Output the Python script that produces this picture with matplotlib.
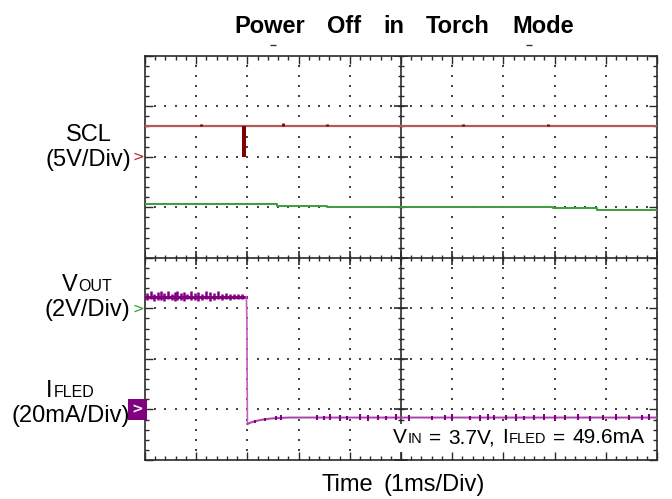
import numpy as np
import matplotlib
matplotlib.use("Agg")
import matplotlib.pyplot as plt
from matplotlib.patches import Rectangle

# ---------------- data (in screen divisions: x 0..10, y 0..8) ----------------
title = "Power Off in Torch Mode"
x_label = "Time (1ms/Div)"

scl_t = [0.0, 10.0]
scl_v = [6.60, 6.60]
scl_spike_t = 1.94
scl_spike_lo = 6.00
scl_glitch_t = [1.10, 2.70, 3.55, 6.22, 7.88]
scl_glitch_v = [6.64, 6.66, 6.65, 6.65, 6.65]

green_t = [0.00, 2.57, 3.55, 7.97, 8.83, 10.00]
green_v = [5.06, 5.03, 5.01, 4.99, 4.94, 4.94]

# VOUT / IFLED trace (base waveform)
purple_t = [0.00, 1.98, 1.99, 2.00, 2.02, 2.06, 2.12, 2.20, 2.30, 2.45, 2.60, 2.80, 10.00]
purple_v = [3.23, 3.23, 2.74, 0.71, 0.72, 0.74, 0.76, 0.78, 0.80, 0.82, 0.83, 0.84, 0.84]

# noise spikes riding on the trace
pre_noise_t = [0.04, 0.12, 0.18, 0.26, 0.31, 0.38, 0.44, 0.52, 0.58, 0.63, 0.70,
               0.76, 0.83, 0.90, 0.97, 1.04, 1.12, 1.19, 1.27, 1.34, 1.42, 1.50,
               1.58, 1.66, 1.73, 1.81, 1.90]
pre_noise_lo = [3.16, 3.18, 3.14, 3.17, 3.16, 3.15, 3.18, 3.16, 3.14, 3.17, 3.16,
                3.15, 3.18, 3.16, 3.17, 3.15, 3.16, 3.18, 3.15, 3.16, 3.18, 3.16,
                3.18, 3.17, 3.18, 3.18, 3.19]
pre_noise_hi = [3.30, 3.34, 3.29, 3.33, 3.35, 3.30, 3.34, 3.29, 3.32, 3.35, 3.30,
                3.33, 3.29, 3.34, 3.30, 3.33, 3.29, 3.35, 3.32, 3.30, 3.34, 3.29,
                3.30, 3.29, 3.28, 3.29, 3.28]
post_noise_t = [2.15, 2.35, 2.55, 2.65, 3.35, 3.50, 3.62, 3.80, 3.95, 4.20, 4.35,
                4.55, 4.70, 4.90, 5.15, 5.60, 5.85, 6.00, 6.35, 6.55, 6.70, 6.82,
                7.05, 7.25, 7.40, 7.60, 7.80, 8.00, 8.20, 8.45, 8.70, 8.95, 9.20,
                9.45, 9.70, 9.85]
post_noise_lo = [0.74, 0.77, 0.79, 0.80, 0.80, 0.79, 0.80, 0.78, 0.80, 0.79, 0.78,
                 0.80, 0.79, 0.80, 0.78, 0.80, 0.79, 0.80, 0.79, 0.78, 0.80, 0.79,
                 0.80, 0.78, 0.80, 0.79, 0.80, 0.78, 0.80, 0.79, 0.78, 0.80, 0.79,
                 0.80, 0.79, 0.80]
post_noise_hi = [0.80, 0.84, 0.88, 0.89, 0.90, 0.88, 0.91, 0.89, 0.88, 0.91, 0.89,
                 0.90, 0.88, 0.91, 0.90, 0.88, 0.90, 0.91, 0.88, 0.90, 0.91, 0.89,
                 0.90, 0.91, 0.88, 0.90, 0.91, 0.89, 0.90, 0.91, 0.88, 0.90, 0.91,
                 0.89, 0.90, 0.91]

scl_marker_y = 6.0
vout_marker_y = 3.0
ifled_marker_y = 1.0
cursor_t = [2.5, 7.5]

# ---------------- figure ----------------
W, H = 672, 499
fig = plt.figure(figsize=(W / 100, H / 100), dpi=100)
L, R, T, B = 145, 657, 55.7, 460
ax = fig.add_axes([L / W, 1 - B / H, (R - L) / W, (B - T) / H])
ax.set_xlim(0, 10)
ax.set_ylim(0, 8)

frame = '#2a2a2a'
for s in ax.spines.values():
    s.set_color(frame)
    s.set_linewidth(1.2)
ax.set_xticks(range(11))
ax.set_yticks(range(9))
ax.set_xticks(np.arange(0, 10.001, 0.2), minor=True)
ax.set_yticks(np.arange(0, 8.001, 0.2), minor=True)
ax.tick_params(which='both', direction='in', top=True, right=True,
               labelbottom=False, labelleft=False, color=frame, width=1.0)
ax.tick_params(which='major', length=5.5)
ax.tick_params(which='minor', length=2.8)

# dotted grid
gx, gy = [], []
for xi in range(1, 10):
    if xi == 5:
        continue
    for yy in np.arange(0.2, 7.9, 0.2):
        gx.append(xi); gy.append(yy)
for yi in range(1, 8):
    if yi == 4:
        continue
    for xx in np.arange(0.2, 9.9, 0.2):
        gx.append(xx); gy.append(yi)
ax.scatter(gx, gy, s=1.6, marker='s', color='#444444', linewidths=0, zorder=1)

# center cross with ticks
ax.axhline(4, color=frame, lw=1.2, zorder=1)
ax.axvline(5, color=frame, lw=1.2, zorder=1)
xm = np.arange(0, 10.001, 0.2)
ym = np.arange(0, 8.001, 0.2)
ax.plot(xm, np.full_like(xm, 4.0), ls='none', marker='|', ms=5, mew=1.0, color=frame, zorder=1)
ax.plot(np.full_like(ym, 5.0), ym, ls='none', marker='_', ms=5, mew=1.0, color=frame, zorder=1)
ax.plot(range(11), [4] * 11, ls='none', marker='|', ms=10, mew=1.2, color=frame, zorder=1)
ax.plot([5] * 9, range(9), ls='none', marker='_', ms=10, mew=1.2, color=frame, zorder=1)

# cursor dashes above the frame
ax.plot(cursor_t, [8.22] * len(cursor_t), ls='none', marker='_', ms=4, mew=1,
        color='#333333', clip_on=False)

# traces
ax.plot(scl_t, scl_v, color='#b45a5a', lw=1.6, zorder=3)
ax.bar([scl_spike_t], [scl_v[0] - scl_spike_lo], bottom=scl_spike_lo, width=0.08,
       color='#800000', zorder=4)
ax.vlines(scl_glitch_t, [scl_v[0]] * len(scl_glitch_t), scl_glitch_v,
          color='#800000', lw=2, zorder=4)
ax.step(green_t, green_v, where='post', color='#3c9c3c', lw=1.4, zorder=3)

pt = np.array(purple_t); pv = np.array(purple_v)
ax.plot(pt[:2], pv[:2], color='#880088', lw=2.2, zorder=3)
ax.plot(pt[1:4], pv[1:4], color='#c060c0', lw=1.2, zorder=3)
ax.plot(pt[3:], pv[3:], color='#a842a8', lw=1.4, zorder=3)
ax.vlines(pre_noise_t, pre_noise_lo, pre_noise_hi, color='#800080', lw=1.8, zorder=4)
ax.vlines(post_noise_t, post_noise_lo, post_noise_hi, color='#800080', lw=1.5, zorder=4)

# channel markers
mk = dict(xycoords=('axes fraction', 'data'), ha='right', va='center',
          fontsize=10, annotation_clip=False, family='DejaVu Sans')
ax.annotate('>', (-0.002, scl_marker_y), color='#b02020', **mk)
ax.annotate('>', (-0.002, vout_marker_y), color='#2a9a2a', **mk)
ax.annotate('>', (-0.003, ifled_marker_y), color='white', fontweight='bold',
            bbox=dict(boxstyle='square,pad=0.25', fc='#800080', ec='none'), **mk)

# ---------------- text helpers ----------------
FONT = 'Liberation Sans'
renderer = fig.canvas.get_renderer()


def place(parts, x, y_base, ha='left', weight='normal', zorder=5):
    """parts: list of (text, size, gap_before_px)"""
    texts, widths = [], []
    for s, sz, g in parts:
        t = fig.text(0, 0, s, fontsize=sz, fontweight=weight, family=FONT,
                     va='baseline', ha='left', zorder=zorder)
        texts.append(t)
        widths.append(t.get_window_extent(renderer).width)
    total = sum(widths) + sum(p[2] for p in parts)
    x0 = {'left': x, 'center': x - total / 2, 'right': x - total}[ha]
    for (s, sz, g), t, w in zip(parts, texts, widths):
        x0 += g
        t.set_position((x0 / W, (H - y_base) / H))
        x0 += w


LBL, SUB = 17, 11.5
words = title.split()
place([(w, 17, 0 if i == 0 else 22) for i, w in enumerate(words)], 404, 32.7,
      ha='center', weight='bold')

xw = x_label.split()
place([(xw[0], LBL, 0), (xw[1], LBL, 11)], 403, 491, ha='center')

place([("SCL", LBL, 0)], 88.5, 140.7, ha='center')
place([("(5V/Div)", LBL, 0)], 88.5, 166, ha='center')
place([("V", LBL, 0), ("OUT", SUB, 0)], 87, 290.7, ha='center')
place([("(2V/Div)", LBL, 0)], 87, 315.7, ha='center')
place([("I", LBL, 0), ("FLED", SUB, 1)], 70.5, 397.3, ha='center')
place([("(20mA/Div)", LBL, 0)], 70.5, 421.7, ha='center')

# condition annotation with white background
bg = Rectangle((389 / W, 1 - 452 / H), (651 - 389) / W, (452 - 424) / H,
               transform=fig.transFigure, fc='white', ec='none', zorder=4)
fig.patches.append(bg)
AN, ANS, SP = 15, 10.5, 7.0
place([("V", AN, 0), ("IN", ANS, 0), ("=", AN, SP), ("3.7V,", AN, SP),
       ("I", AN, SP), ("FLED", ANS, 1), ("=", AN, SP), ("49.6mA", AN, SP)],
      393.3, 443.3, ha='left')

fig.savefig('out.png', dpi=100)
